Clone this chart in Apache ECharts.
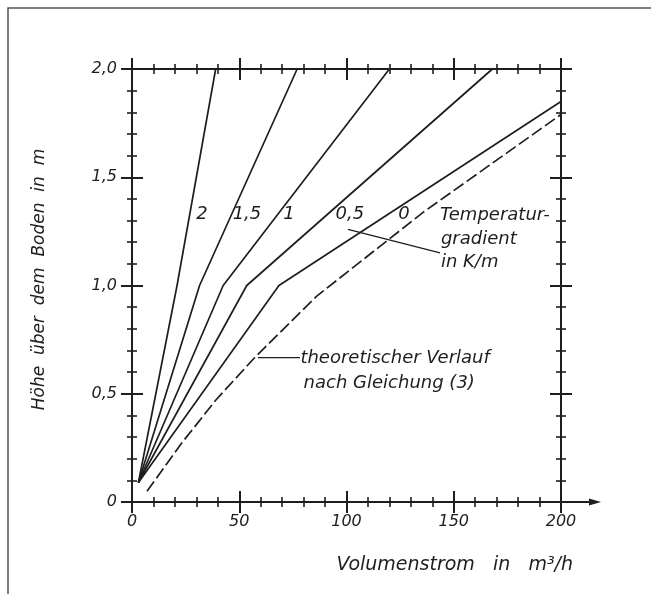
<!DOCTYPE html>
<html>
<head>
<meta charset="utf-8">
<script src="https://cdn.jsdelivr.net/npm/echarts@6/dist/echarts.min.js"></script>
<style>
  html, body { margin: 0; padding: 0; background: #fff; }
  #chart { width: 651px; height: 602px; }
</style>
</head>
<body>
<div id="chart"></div>
<script>
// Achsen (Volumenstrom in m3/h, Höhe in m)
var xTicks = [0, 50, 100, 150, 200];
var yTicks = [0, 0.5, 1.0, 1.5, 2.0];

// Temperaturgradient in K/m -> Kurvenbeschriftung
var gradients = ['2', '1,5', '1', '0,5', '0'];
// Messkurven [Volumenstrom, Höhe]
var curve2 = [[3, 0.09], [21, 1.0], [39, 2.0]];
var curve15 = [[3, 0.09], [31.5, 1.0], [77, 2.0]];
var curve1 = [[3, 0.09], [42.5, 1.0], [120, 2.0]];
var curve05 = [[3, 0.09], [53.5, 1.0], [168, 2.0]];
var curve0 = [[3, 0.09], [68.5, 1.0], [200, 1.85]];
var curves = [curve2, curve15, curve1, curve05, curve0];
// theoretischer Verlauf nach Gleichung (3)
var theory = [[7, 0.05], [23, 0.27], [39, 0.47], [57, 0.665], [86, 0.95], [136, 1.34], [200, 1.79]];

// Beschriftungen im Diagramm (Datenkoordinaten)
var gradientLabelAt = [[32.6, 1.33], [53.6, 1.33], [73.2, 1.33], [101.6, 1.33], [126.8, 1.33]];
var notes = ['Temperatur-', 'gradient', 'in K/m', 'theoretischer Verlauf', 'nach Gleichung (3)'];
var notesAt = [[143.6, 1.325], [144, 1.215], [144, 1.106], [78.5, 0.662], [80, 0.55]];
var leaderGradient = [[100.7, 1.259], [143.6, 1.151]];
var leaderTheory = [[58.7, 0.667], [78.3, 0.667]];

var ink = '#1e1e1e';
var font = 'DejaVu Sans';

var chart = echarts.init(document.getElementById('chart'));

function xAxis(pos, inside, labels) {
  return {
    type: 'value', position: pos,
    min: xTicks[0], max: xTicks[xTicks.length - 1], interval: xTicks[1] - xTicks[0],
    axisLine: { show: true, onZero: false, lineStyle: { color: ink, width: 2 } },
    axisTick: { show: true, inside: inside, length: 11, lineStyle: { color: ink, width: 2 } },
    minorTick: { show: true, splitNumber: 5, length: 5, lineStyle: { color: ink, width: 1.6 } },
    splitLine: { show: false },
    axisLabel: {
      show: labels, margin: 12, color: ink, fontSize: 16, fontStyle: 'italic', fontFamily: font
    }
  };
}

function yAxis(pos, inside, labels) {
  return {
    type: 'value', position: pos,
    min: yTicks[0], max: yTicks[yTicks.length - 1], interval: yTicks[1] - yTicks[0],
    axisLine: { show: true, onZero: false, lineStyle: { color: ink, width: 2 } },
    axisTick: { show: true, inside: inside, length: 11, lineStyle: { color: ink, width: 2 } },
    minorTick: { show: true, splitNumber: 5, length: 5, lineStyle: { color: ink, width: 1.6 } },
    splitLine: { show: false },
    axisLabel: {
      show: labels, margin: 15, color: ink, fontSize: 16, fontStyle: 'italic', fontFamily: font,
      formatter: function (v) { return v === 0 ? '0' : v.toFixed(1).replace('.', ','); }
    }
  };
}

var series = curves.map(function (c, i) {
  return {
    name: gradients[i], type: 'line', data: c, symbol: 'none', silent: true,
    lineStyle: { color: ink, width: 1.7 }
  };
});
series.push({
  name: 'theoretisch', type: 'line', data: theory, symbol: 'none', silent: true,
  lineStyle: { color: ink, width: 1.7, type: [12, 4] }
});
// Hinweislinien
[leaderGradient, leaderTheory].forEach(function (l) {
  series.push({
    type: 'line', data: l, symbol: 'none', silent: true,
    lineStyle: { color: ink, width: 1.3 }
  });
});
// Kurvenbeschriftung
series.push({
  type: 'scatter', symbolSize: 0, silent: true, itemStyle: { opacity: 1 },
  data: gradientLabelAt.map(function (p, i) { return { value: p, name: gradients[i] }; }),
  label: {
    show: true, position: 'inside', formatter: '{b}',
    color: ink, fontSize: 18, fontStyle: 'italic', fontFamily: font
  }
});
series.push({
  type: 'scatter', symbolSize: 0, silent: true, itemStyle: { opacity: 1 },
  data: notesAt.map(function (p, i) { return { value: p, name: notes[i] }; }),
  label: {
    show: true, position: 'right', distance: 0, formatter: '{b}',
    color: ink, fontSize: 18, fontStyle: 'italic', fontFamily: font
  }
});

chart.setOption({
  animation: false,
  backgroundColor: '#fff',
  grid: { left: 132, top: 69, width: 429, height: 433, outerBoundsMode: 'none' },
  xAxis: [xAxis('bottom', false, true), xAxis('bottom', true, false), xAxis('top', false, false), xAxis('top', true, false)],
  yAxis: [yAxis('left', false, true), yAxis('left', true, false), yAxis('right', false, false), yAxis('right', true, false)],
  series: series
});

// Pfeil am Ende der x-Achse, Achsentitel, Rahmen
var xEnd = chart.convertToPixel({ xAxisIndex: 0, yAxisIndex: 0 }, [xTicks[xTicks.length - 1], 0]);
var yEnd = chart.convertToPixel({ xAxisIndex: 0, yAxisIndex: 0 }, [0, yTicks[yTicks.length - 1]]);
chart.setOption({
  graphic: [
    { type: 'line', shape: { x1: xEnd[0], y1: xEnd[1], x2: xEnd[0] + 30, y2: xEnd[1] }, style: { stroke: ink, lineWidth: 2 } },
    { type: 'polygon', shape: { points: [[xEnd[0] + 40, xEnd[1]], [xEnd[0] + 28, xEnd[1] - 3.5], [xEnd[0] + 28, xEnd[1] + 3.5]] }, style: { fill: ink } },
    {
      type: 'text', x: xEnd[0] + 12, y: xEnd[1] + 63,
      style: { text: 'Volumenstrom   in   m³/h', fill: ink, font: 'italic 19px "DejaVu Sans"', align: 'right', verticalAlign: 'middle' }
    },
    {
      type: 'text', x: 40, y: (yEnd[1] + xEnd[1]) / 2 - 6, rotation: Math.PI / 2,
      style: { text: 'Höhe  über  dem  Boden  in  m', fill: ink, font: 'italic 17px "DejaVu Sans"', align: 'center', verticalAlign: 'middle' }
    },
    { type: 'polyline', shape: { points: [[8, 594], [8, 8], [651, 8]] }, style: { stroke: '#555', lineWidth: 1.5, fill: null } }
  ]
});
</script>
</body>
</html>
